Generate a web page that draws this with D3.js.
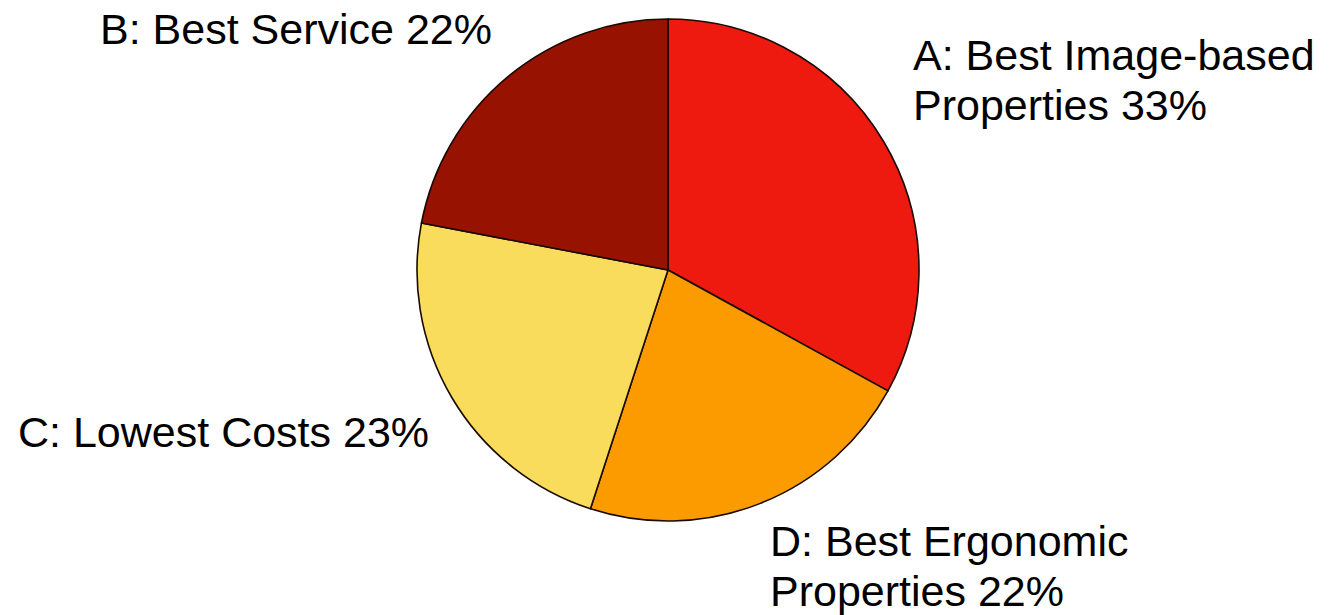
<!DOCTYPE html>
<html>
<head>
<meta charset="utf-8">
<script src="https://cdn.jsdelivr.net/npm/d3@7"></script>
<style>
  html, body { margin: 0; padding: 0; background: #fff; }
  svg { display: block; }
</style>
</head>
<body>
<svg id="chart" width="1333" height="615"></svg>
<script>
// Data (clockwise from 12 o'clock)
const categories = ["A", "D", "C", "B"];
const values = [33, 22, 23, 22];
const labelLines = [
  ["A: Best Image-based", "Properties 33%"],
  ["D: Best Ergonomic", "Properties 22%"],
  ["C: Lowest Costs 23%"],
  ["B: Best Service 22%"]
];
const colors = ["#ee1a10", "#fb9b00", "#f9dc5c", "#981200"];

const svg = d3.select("#chart");
const cx = 668, cy = 270, R = 251;

const pie = d3.pie().sort(null).value(d => d)(values);
const arc = d3.arc().innerRadius(0).outerRadius(R);
const color = d3.scaleOrdinal().domain(categories).range(colors);

const g = svg.append("g").attr("transform", `translate(${cx},${cy})`);
g.selectAll("path").data(pie).join("path")
  .attr("d", arc)
  .attr("fill", (d, i) => color(categories[i]))
  .attr("stroke", "#1a0a00")
  .attr("stroke-width", 1.6)
  .attr("stroke-linejoin", "round");

// Label positions (start x, first baseline)
const labelPos = [
  {x: 913, y: 70},
  {x: 770, y: 556},
  {x: 18, y: 447},
  {x: 100, y: 44}
];
const lineH = 50;
labelLines.forEach((lines, i) => {
  const t = svg.append("text")
    .attr("x", labelPos[i].x)
    .attr("y", labelPos[i].y)
    .attr("font-family", "Liberation Sans, Arial, sans-serif")
    .attr("font-size", 43)
    .attr("fill", "#000");
  lines.forEach((ln, j) => {
    t.append("tspan").attr("x", labelPos[i].x).attr("y", labelPos[i].y + j * lineH).text(ln);
  });
});
</script>
</body>
</html>
